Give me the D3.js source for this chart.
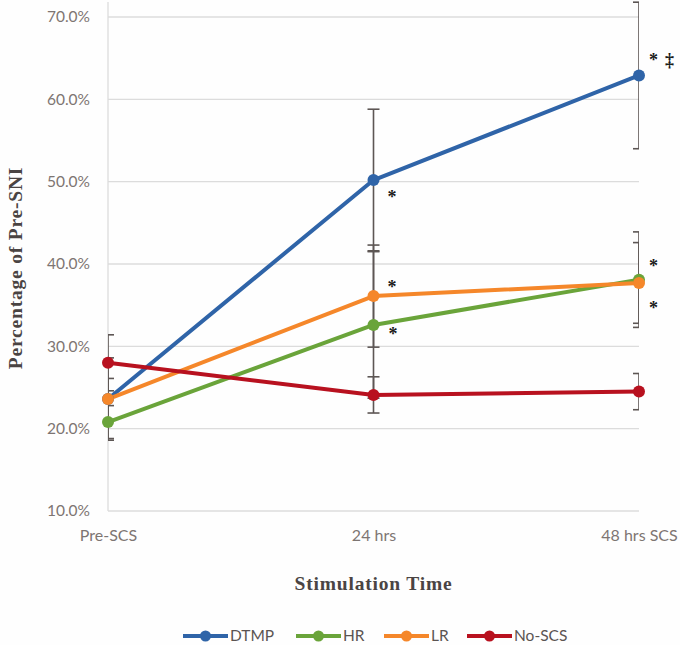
<!DOCTYPE html>
<html><head><meta charset="utf-8">
<script src="https://cdn.jsdelivr.net/npm/d3@7"></script>
<style>body{margin:0;background:#fff;}svg{display:block;}</style>
</head><body>
<script>
const categories = ["Pre-SCS", "24 hrs", "48 hrs SCS"];
const seriesNames = ["DTMP", "HR", "LR", "No-SCS"];
const seriesColors = ["#2f64a8", "#6aa43a", "#f5872a", "#b8111f"];
const dtmp = [23.6, 50.2, 62.9];
const hr = [20.8, 32.6, 38.1];
const lr = [23.6, 36.1, 37.7];
const noScs = [28.0, 24.1, 24.5];
const dtmpErr = [5.0, 8.6, 8.9];
const hrErr = [2.0, 8.9, 5.8];
const lrErr = [2.5, 6.2, 4.9];
const noScsErr = [3.4, 2.2, 2.2];
const yTicks = [10, 20, 30, 40, 50, 60, 70];
const annotations = [
  {series: 0, cat: 1, text: "*"},
  {series: 2, cat: 1, text: "*"},
  {series: 1, cat: 1, text: "*"},
  {series: 0, cat: 2, text: "*"},
  {series: 0, cat: 2, text: "‡"},
  {series: 1, cat: 2, text: "*"},
  {series: 2, cat: 2, text: "*"}
];

const values = [dtmp, hr, lr, noScs];
const errs = [dtmpErr, hrErr, lrErr, noScsErr];

const W = 680, H = 645;
const svg = d3.select("body").append("svg").attr("width", W).attr("height", H);
svg.append("rect").attr("width", W).attr("height", H).attr("fill", "#fefefe");

const pLeft = 108, pRight = 639, pTop = 17, pBottom = 511;
const x = d3.scalePoint().domain(categories).range([pLeft, pRight]).padding(0);
const y = d3.scaleLinear().domain([10, 70]).range([pBottom, pTop]);

svg.append("defs").append("clipPath").attr("id", "plotclip")
  .append("rect").attr("x", pLeft).attr("y", 0).attr("width", pRight - pLeft).attr("height", pBottom);

// gridlines
svg.append("g").selectAll("line").data(yTicks).join("line")
  .attr("x1", pLeft).attr("x2", pRight)
  .attr("y1", d => y(d)).attr("y2", d => y(d))
  .attr("stroke", "#dcdcdc").attr("stroke-width", 1.3);
// left axis line
svg.append("line").attr("x1", pLeft).attr("x2", pLeft).attr("y1", 2).attr("y2", pBottom)
  .attr("stroke", "#dcdcdc").attr("stroke-width", 1.3);

const tickFont = "Lato, 'Open Sans', sans-serif";
// y tick labels
const yAxis = d3.axisLeft(y).tickValues(yTicks).tickFormat(d => d.toFixed(1) + "%").tickSize(0).tickPadding(18);
const ya = svg.append("g").attr("transform", `translate(${pLeft},0)`).call(yAxis);
ya.select(".domain").remove();
ya.selectAll("text").attr("font-family", tickFont).attr("font-size", 15.5).attr("fill", "#7d7572");

// x tick labels
const xAxis = d3.axisBottom(x).tickSize(0).tickPadding(19);
const xa = svg.append("g").attr("transform", `translate(0,${pBottom})`).call(xAxis);
xa.select(".domain").remove();
xa.selectAll("text").attr("font-family", tickFont).attr("font-size", 16).attr("fill", "#7d7572");

// error bars (clipped to plot area)
const eb = svg.append("g").attr("clip-path", "url(#plotclip)");
values.forEach((vals, si) => {
  vals.forEach((v, ci) => {
    const e = errs[si][ci];
    const cx = x(categories[ci]);
    eb.append("line").attr("x1", cx).attr("x2", cx).attr("y1", y(v + e)).attr("y2", y(v - e))
      .attr("stroke", "#5d5654").attr("stroke-width", 1.6);
    [v + e, v - e].forEach(t => {
      eb.append("line").attr("x1", cx - 6).attr("x2", cx + 6).attr("y1", y(t)).attr("y2", y(t))
        .attr("stroke", "#5d5654").attr("stroke-width", 1.6);
    });
  });
});

// lines and markers
const line = d3.line().x((d, i) => x(categories[i])).y(d => y(d));
values.forEach((vals, si) => {
  svg.append("path").datum(vals).attr("d", line).attr("fill", "none")
    .attr("stroke", seriesColors[si]).attr("stroke-width", 4).attr("stroke-linejoin", "round");
});
values.forEach((vals, si) => {
  svg.append("g").selectAll("circle").data(vals).join("circle")
    .attr("cx", (d, i) => x(categories[i])).attr("cy", d => y(d)).attr("r", 6)
    .attr("fill", seriesColors[si]);
});

// annotations
const annOffsets = [[14, 17], [14, -9], [15, 9], [10, -15], [26, -15], [10, -14], [10, 25]];
annotations.forEach((a, k) => {
  const off = annOffsets[k];
  svg.append("text")
    .attr("x", x(categories[a.cat]) + off[0])
    .attr("y", y(values[a.series][a.cat]) + off[1] + 6)
    .attr("font-family", "'Liberation Serif', 'DejaVu Serif', serif").attr("font-weight", "bold")
    .attr("font-size", 18).attr("fill", "#1a1a1a")
    .text(a.text);
});

// axis titles
const titleFont = "'Liberation Serif', serif";
svg.append("text").attr("x", x(categories[1])).attr("y", 590).attr("text-anchor", "middle")
  .attr("font-family", titleFont).attr("font-weight", "bold").attr("font-size", 19.5)
  .attr("fill", "#4a4443").attr("letter-spacing", 0.8).text("Stimulation Time");
svg.append("text").attr("transform", "translate(22,268) rotate(-90)").attr("text-anchor", "middle")
  .attr("font-family", titleFont).attr("font-weight", "bold").attr("font-size", 19.5)
  .attr("fill", "#4a4443").attr("letter-spacing", 0.8).text("Percentage of Pre-SNI");

// legend
const legX = [183, 296, 384, 467];
const leg = svg.append("g");
seriesNames.forEach((n, i) => {
  const lx = legX[i], ly = 636;
  leg.append("line").attr("x1", lx).attr("x2", lx + 45).attr("y1", ly).attr("y2", ly)
    .attr("stroke", seriesColors[i]).attr("stroke-width", 4);
  leg.append("circle").attr("cx", lx + 22.5).attr("cy", ly).attr("r", 5.5).attr("fill", seriesColors[i]);
  leg.append("text").attr("x", lx + 47).attr("y", ly + 5).attr("font-family", tickFont)
    .attr("font-size", 15.5).attr("fill", "#5b5452").text(n);
});
</script>
</body></html>
